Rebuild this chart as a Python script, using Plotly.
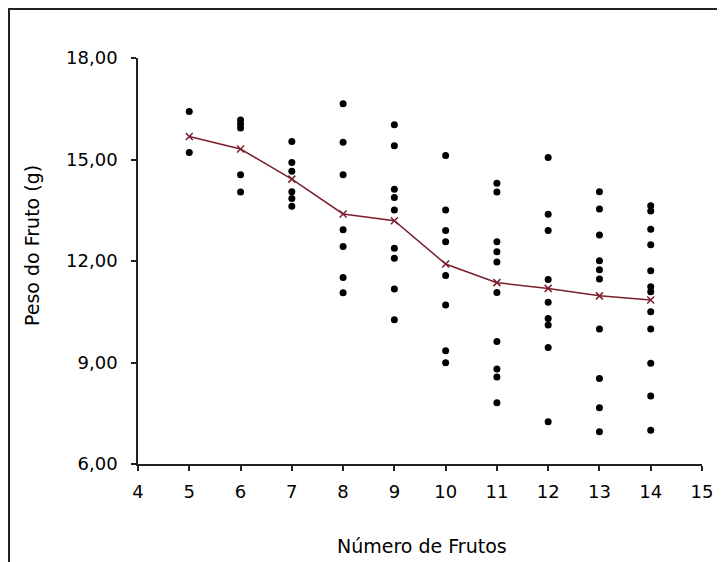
import plotly.graph_objects as go

frutos = [5, 6, 7, 8, 9, 10, 11, 12, 13, 14]
pesos = {
    5: [16.42, 15.21],
    6: [16.17, 16.05, 15.93, 14.55, 14.04],
    7: [15.53, 14.91, 14.65, 14.05, 13.85, 13.62],
    8: [16.65, 15.51, 14.55, 12.92, 12.43, 11.51, 11.06],
    9: [16.03, 15.41, 14.12, 13.88, 13.51, 12.38, 12.08, 11.17, 10.26],
    10: [15.12, 13.51, 12.90, 12.57, 11.57, 10.70, 9.35, 8.99],
    11: [14.30, 14.04, 12.57, 12.27, 11.97, 11.07, 9.62, 8.81, 8.57, 7.81],
    12: [15.06, 13.38, 12.90, 11.45, 10.78, 10.30, 10.11, 9.44, 7.25],
    13: [14.05, 13.54, 12.77, 12.01, 11.74, 11.47, 9.99, 8.53, 7.66, 6.95],
    14: [13.63, 13.48, 12.94, 12.48, 11.71, 11.24, 11.09, 10.50, 9.99, 8.98, 8.01, 7.00],
}
medias = [15.68, 15.31, 14.42, 13.39, 13.19, 11.91, 11.36, 11.19, 10.97, 10.85]

x_ticks = list(range(4, 16))
y_ticks = [6, 9, 12, 15, 18]
y_ticktext = ["6,00", "9,00", "12,00", "15,00", "18,00"]

xs, ys = [], []
for k in frutos:
    for v in pesos[k]:
        xs.append(k)
        ys.append(v)

FONT = "DejaVu Sans"
L, R, T, B = 130, 31, 50, 106
W, H = 725, 562
PW, PH = W - L - R, H - T - B

fig = go.Figure()
fig.add_trace(go.Scatter(
    x=xs, y=ys, mode="markers",
    marker=dict(color="black", size=7, symbol="circle"),
    showlegend=False,
))
fig.add_trace(go.Scatter(
    x=frutos, y=medias, mode="lines+markers",
    line=dict(color="#7a1e2c", width=1.5),
    marker=dict(symbol="x-thin", size=7, color="#7a1e2c",
                line=dict(color="#7a1e2c", width=1.5)),
    showlegend=False,
))

fig.update_layout(
    width=W, height=H,
    margin=dict(l=L, r=R, t=T, b=B),
    paper_bgcolor="white", plot_bgcolor="white",
    font=dict(family=FONT, size=18, color="black"),
    xaxis=dict(
        range=[4, 15], tickvals=x_ticks, showgrid=False, zeroline=False,
        showline=True, linecolor="#222", linewidth=1.5,
        ticks="outside", ticklen=5, tickcolor="#222", tickwidth=1.5,
        tickfont=dict(size=18), ticklabelstandoff=6,
    ),
    yaxis=dict(
        range=[6, 18], tickvals=y_ticks, ticktext=y_ticktext,
        showgrid=False, zeroline=False,
        showline=True, linecolor="#222", linewidth=1.5,
        ticks="outside", ticklen=5, tickcolor="#222", tickwidth=1.5,
        tickfont=dict(size=18), ticklabelstandoff=10,
    ),
    annotations=[
        dict(text="Número de Frutos", xref="paper", yref="paper",
             x=(422 - 8 - L) / PW, y=1 - (538 - T) / PH,
             xanchor="center", yanchor="middle",
             showarrow=False, font=dict(size=19)),
        dict(text="Peso do Fruto (g)", xref="paper", yref="paper",
             x=(24 - L) / PW, y=1 - (238 - T) / PH,
             xanchor="center", yanchor="middle",
             textangle=-90, showarrow=False, font=dict(size=19)),
    ],
    shapes=[
        dict(type="rect", xref="paper", yref="paper",
             x0=(1 - L) / PW, x1=1.2, y0=-0.4, y1=1 + (T - 1) / PH,
             line=dict(color="#222", width=2), fillcolor="rgba(0,0,0,0)",
             layer="below"),
    ],
)

fig.write_html("out.html")
